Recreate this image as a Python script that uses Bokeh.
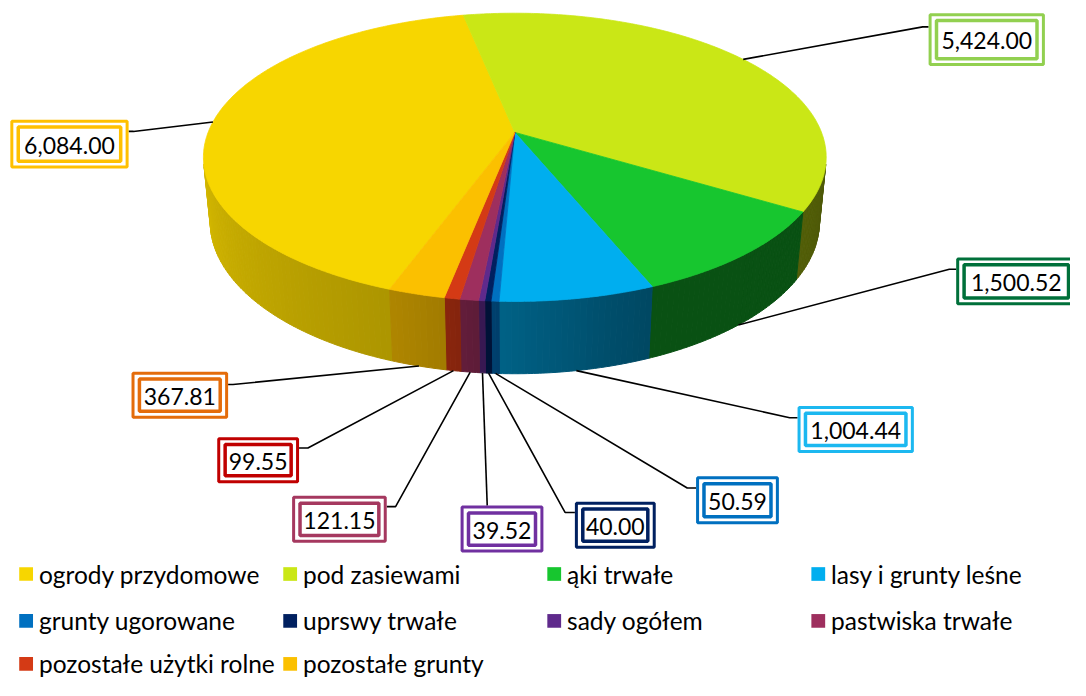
import numpy as np
from bokeh.plotting import figure
from bokeh.models import Range1d
from bokeh.core.properties import value
from bokeh.embed import file_html
from bokeh.resources import INLINE

# ---------------- data ----------------
categories = ["ogrody przydomowe", "pod zasiewami", "ąki trwałe", "lasy i grunty leśne",
              "grunty ugorowane", "uprswy trwałe", "sady ogółem", "pastwiska trwałe",
              "pozostałe użytki rolne", "pozostałe grunty"]
values = [6084.00, 5424.00, 1500.52, 1004.44, 50.59, 40.00, 39.52, 121.15, 99.55, 367.81]
slice_colors = ["#F7D600", "#CAE716", "#17C62F", "#00AEEF", "#0070C0",
                "#002060", "#5F2A8C", "#9E2F5E", "#D43A15", "#FBC000"]
label_colors = ["#FFC000", "#92D050", "#00703A", "#1CB8F0", "#0070C0",
                "#002060", "#7030A0", "#A5385F", "#C00000", "#E46C0A"]

# ---------------- layout / style ----------------
FONT = value("Lato")
CX, CY = 522.0, 135.0          # apex of the pie on screen
FOCAL = 1599.0
SIN_E = 0.4597
COS_E = np.sqrt(1 - SIN_E ** 2)
DIST = 5.137
DEPTH = 0.2407
START_DEG = -160.0

# outer box (x0, y0, x1, y1), attach point, elbow point for each label
label_boxes = [(10, 122, 130, 172), (942, 13, 1060, 67), (970, 263, 1092, 312),
               (809, 415, 927, 463), (706, 487, 790, 536), (583, 513, 665, 561),
               (467, 517, 551, 565), (296, 507, 392, 555), (220, 447, 303, 494),
               (133, 380, 231, 428)]
label_attach = [(130, 134), (942, 27), (970, 275), (809, 427), (706, 499),
                (583, 524), (494, 517), (392, 518), (303, 458), (231, 393)]
label_elbow = [(135, 134), (936, 27), (963, 275), (801, 427), (697, 499),
               (573, 524), (494, 517), (401, 518), (312, 458), (236, 393)]

legend_cols = [19, 287, 555, 823]
legend_rows = [587, 635, 679]

# shading factor of the side wall by angle (deg, clockwise from back)
shade_ang = [100, 120, 157, 165, 182, 190, 200, 230, 262]
shade_fac = [0.38, 0.41, 0.41, 0.45, 0.56, 0.64, 0.70, 0.78, 0.87]


def project(X, Y, Z):
    X = np.asarray(X, float); Y = np.asarray(Y, float); Z = np.asarray(Z, float)
    py = Y + DIST * COS_E
    pz = Z - DIST * SIN_E
    depth = py * COS_E - pz * SIN_E
    w = py * SIN_E + pz * COS_E
    return CX + FOCAL * X / depth, CY - FOCAL * w / depth


def shade(hexcol, f):
    r, g, b = int(hexcol[1:3], 16), int(hexcol[3:5], 16), int(hexcol[5:7], 16)
    return "#%02x%02x%02x" % (int(r * f), int(g * f), int(b * f))


total = sum(values)
spans = [v / total * 360.0 for v in values]
starts = START_DEG + np.concatenate([[0], np.cumsum(spans)[:-1]])
ends = starts + np.array(spans)

p = figure(width=1070, height=680, x_range=Range1d(0, 1086), y_range=Range1d(696, 0),
           output_backend="svg", toolbar_location=None, min_border=0)
p.axis.visible = False
p.grid.visible = False
p.outline_line_color = None
p.background_fill_color = "white"

# ---- side wall (visible part only) ----
vis_lim = np.degrees(np.arccos(-1.0 / (DIST * COS_E)))  # ~102.7
side_xs, side_ys, side_cols = [], [], []
for i in range(len(values)):
    a0, a1 = starts[i], ends[i]
    for off in (0, 360, -360):
        b0, b1 = a0 + off, a1 + off
        lo, hi = max(b0, vis_lim), min(b1, 360 - vis_lim)
        if hi <= lo:
            continue
        n = max(1, int(np.ceil((hi - lo) / 1.0)))
        edges = np.linspace(lo, hi, n + 1)
        for k in range(n):
            t = np.radians(np.linspace(edges[k], edges[k + 1], 3))
            X, Y = np.sin(t), np.cos(t)
            tx, ty = project(X, Y, np.zeros_like(t))
            bx, by = project(X, Y, -DEPTH * np.ones_like(t))
            side_xs.append(list(tx) + list(bx[::-1]))
            side_ys.append(list(ty) + list(by[::-1]))
            mid = 0.5 * (edges[k] + edges[k + 1])
            side_cols.append(shade(slice_colors[i], np.interp(mid, shade_ang, shade_fac)))
p.patches(side_xs, side_ys, fill_color=side_cols, line_color=side_cols, line_width=1)

# ---- top face ----
top_xs, top_ys = [], []
for i in range(len(values)):
    t = np.radians(np.linspace(starts[i], ends[i], max(3, int(spans[i] * 2) + 2)))
    tx, ty = project(np.sin(t), np.cos(t), np.zeros_like(t))
    top_xs.append([CX] + list(tx))
    top_ys.append([CY] + list(ty))
p.patches(top_xs, top_ys, fill_color=slice_colors, line_color=slice_colors, line_width=0.8)

# ---- leader lines ----
lead_xs, lead_ys = [], []
for i in range(len(values)):
    mid = np.radians(0.5 * (starts[i] + ends[i]))
    X, Y = np.sin(mid), np.cos(mid)
    z = -DEPTH if Y < -1.0 / (DIST * COS_E) else 0.0
    sx, sy = project(X, Y, z)
    ex, ey = label_elbow[i]
    ax, ay = label_attach[i]
    lead_xs.append([float(sx), ex, ax])
    lead_ys.append([float(sy), ey, ay])
p.multi_line(lead_xs, lead_ys, line_color="black", line_width=1.6)

# ---- data labels with double border ----
for i in range(len(values)):
    x0, y0, x1, y1 = label_boxes[i]
    p.quad(left=x0 + 1.5, right=x1 - 1.5, top=y0 + 1.5, bottom=y1 - 1.5,
           fill_color="white", line_color=label_colors[i], line_width=3)
    p.quad(left=x0 + 8, right=x1 - 8, top=y0 + 7.5, bottom=y1 - 7.5,
           fill_color="white", line_color=label_colors[i], line_width=3.5)
    p.text(x=[(x0 + x1) / 2], y=[(y0 + y1) / 2 + 1],
           text=[f"{values[i]:,.2f}"], text_font=FONT, text_font_size="23px",
           text_align="center", text_baseline="middle", text_color="black")

# ---- legend ----
for i, name in enumerate(categories):
    r, c = divmod(i, 4)
    lx, ly = legend_cols[c], legend_rows[r]
    p.quad(left=lx, right=lx + 14, top=ly - 7, bottom=ly + 7,
           fill_color=slice_colors[i], line_color=None)
    p.text(x=[lx + 20], y=[ly], text=[name], text_font=FONT, text_font_size="24.5px",
           text_align="left", text_baseline="middle", text_color="black")

open("out.html", "w").write(file_html(p, INLINE))
